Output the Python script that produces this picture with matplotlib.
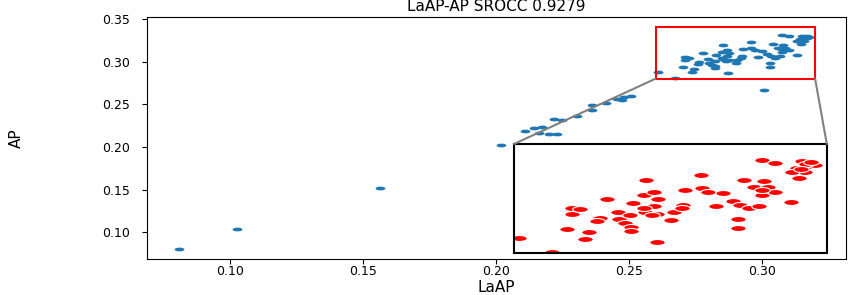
import matplotlib
matplotlib.use("Agg")
import matplotlib.pyplot as plt
import numpy as np
from matplotlib.path import Path
from matplotlib.transforms import Affine2D
from matplotlib.patches import Rectangle, ConnectionPatch

plt.rcParams['font.family'] = 'DejaVu Sans'

# LaAP (x) and AP (y) per sample
laap = [0.0808, 0.1026, 0.1565, 0.2020,
        0.2111, 0.2142, 0.2174, 0.2162, 0.2199, 0.2228, 0.2218, 0.2249,
        0.2306, 0.2362, 0.2362, 0.2412, 0.2454, 0.2481, 0.2506, 0.2475,
        0.3008,
        0.2610, 0.2672, 0.2702, 0.2737, 0.2743, 0.2711, 0.2712, 0.2727,
        0.2778, 0.2765, 0.2759, 0.2799, 0.2801, 0.2823, 0.2813, 0.2825,
        0.2825, 0.2853, 0.2849, 0.2868, 0.2877, 0.2829, 0.2868, 0.2852,
        0.2849, 0.2875, 0.2865, 0.2902, 0.2906, 0.2925, 0.2923, 0.2874,
        0.2928, 0.2958, 0.2960, 0.2973, 0.3001, 0.2987, 0.3021, 0.3034,
        0.3051, 0.3069, 0.3029, 0.3029, 0.3042, 0.3061, 0.3079, 0.3075,
        0.3087, 0.3101, 0.3076, 0.3132, 0.3075, 0.3101, 0.3143, 0.3147,
        0.3152, 0.3158, 0.3133, 0.3168, 0.3178, 0.3160, 0.3150, 0.3170]
ap = [0.0807, 0.1038, 0.1515, 0.2019,
      0.2187, 0.2219, 0.2237, 0.2160, 0.2152, 0.2152, 0.2331, 0.2316,
      0.2363, 0.2492, 0.2433, 0.2512, 0.2559, 0.2582, 0.2598, 0.2551,
      0.2668,
      0.2884, 0.2804, 0.2934, 0.2877, 0.2914, 0.3050, 0.3017, 0.3042,
      0.3097, 0.2994, 0.2974, 0.3026, 0.2985, 0.3007, 0.2965, 0.2943,
      0.2923, 0.3200, 0.3117, 0.3134, 0.3099, 0.3075, 0.3061, 0.3026,
      0.3048, 0.3017, 0.3011, 0.2983, 0.3024, 0.3064, 0.3046, 0.2861,
      0.3149, 0.3229, 0.3158, 0.3134, 0.3130, 0.3057, 0.3088, 0.3066,
      0.3046, 0.3061, 0.2987, 0.2939, 0.3204, 0.3161, 0.3198, 0.3117,
      0.3161, 0.3134, 0.3145, 0.3079, 0.3310, 0.3295, 0.3270, 0.3211,
      0.3305, 0.3244, 0.3244, 0.3277, 0.3286, 0.3290, 0.3260, 0.3300]
title = "LaAP-AP SROCC 0.9279"

# zoomed region
zx1, zx2 = 0.26, 0.32
zy1, zy2 = 0.28, 0.34

# the reference is stretched sideways, so use flattened dots
oval = Affine2D().scale(1.0, 1 / 2.6).transform_path(Path.unit_circle())

fig = plt.figure(figsize=(8.48, 2.95), dpi=100)
ax = fig.add_axes([0.1733, 0.122, 0.8243, 0.8204])
ax.scatter(laap, ap, s=50, marker=oval, color='#1f77b4', linewidths=0)
ax.set_xlim(0.0688, 0.3316)
ax.set_ylim(0.0687, 0.3523)
ax.set_xticks([0.10, 0.15, 0.20, 0.25, 0.30])
ax.set_yticks([0.10, 0.15, 0.20, 0.25, 0.30, 0.35])
ax.tick_params(axis='both', labelsize=9)
ax.tick_params(axis='y', pad=9)
ax.tick_params(axis='x', pad=1)
ax.set_title(title, fontsize=11, pad=4)
ax.set_xlabel("LaAP", fontsize=11)
ax.set_ylabel("AP", fontsize=11)
ax.xaxis.set_label_coords(0.5, -0.088)
ax.yaxis.set_label_coords(-0.176, 0.5)

# inset
axins = ax.inset_axes([0.2068, 0.0757, 0.1176, 0.1278], transform=ax.transData)
axins.scatter(laap, ap, s=125, marker=oval, color='red', edgecolors='white', linewidths=0.8)
axins.set_xlim(zx1, zx2)
axins.set_ylim(zy1, zy2)
axins.set_xticks([])
axins.set_yticks([])
for sp in axins.spines.values():
    sp.set_linewidth(1.5)
    sp.set_color('black')

ax.add_patch(Rectangle((zx1, zy1), zx2 - zx1, zy2 - zy1, fill=False,
                       edgecolor='red', linewidth=1.5, zorder=5))
for cx, ix in [(zx1, 0), (zx2, 1)]:
    con = ConnectionPatch(xyA=(cx, zy1), coordsA=ax.transData,
                          xyB=(ix, 1), coordsB=axins.transAxes,
                          color='gray', linewidth=1.5)
    fig.add_artist(con)

fig.savefig("out.png", dpi=100)
